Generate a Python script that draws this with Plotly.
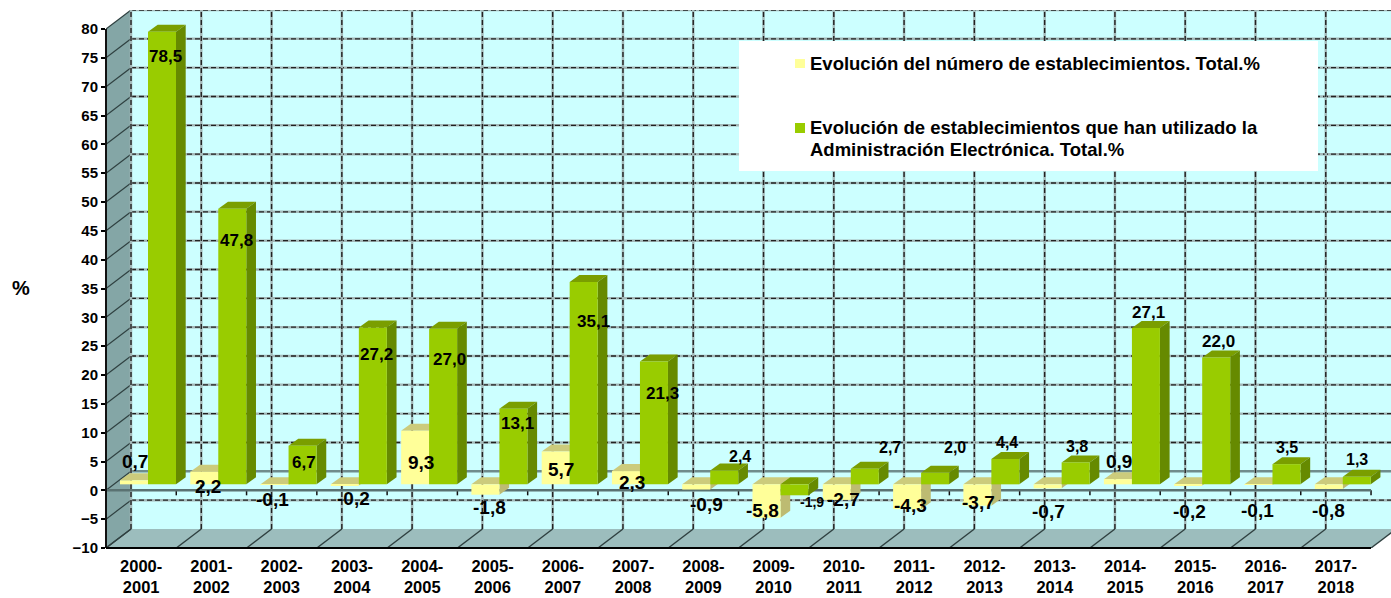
import plotly.graph_objects as go

periods = ["2000-2001", "2001-2002", "2002-2003", "2003-2004", "2004-2005", "2005-2006",
           "2006-2007", "2007-2008", "2008-2009", "2009-2010", "2010-2011", "2011-2012",
           "2012-2013", "2013-2014", "2014-2015", "2015-2016", "2016-2017", "2017-2018"]
establecimientos = [0.7, 2.2, -0.1, -0.2, 9.3, -1.8, 5.7, 2.3, -0.9, -5.8, -2.7, -4.3, -3.7, -0.7, 0.9, -0.2, -0.1, -0.8]
admin_electronica = [78.5, 47.8, 6.7, 27.2, 27.0, 13.1, 35.1, 21.3, 2.4, -1.9, 2.7, 2.0, 4.4, 3.8, 27.1, 22.0, 3.5, 1.3]
y_ticks = list(range(-10, 85, 5))

# label shifts in pixels, the labels were placed by hand in the original
yellow_shift = [(-6, 25), (-3, -9), (-9, -9), (2, -7), (-1, -26), (-3, -7), (-2, -12), (-1, -5), (3, -9),
                (-11, 13), (0, 6), (-4, 10), (-6, 9), (-6, -17), (-6, 24), (-6, -20), (-8, -20), (-7, -16)]
green_shift = [(24, -19), (25, -26), (22, -11), (25, -21), (27, -25), (25, -9), (31, -34), (29, -26), (37, 20),
               (38, -1), (46, 27), (41, 31), (22, 22), (22, 22), (23, 22), (23, 22), (21, 23), (21, 23)]

W, H = 1391, 598
LEFT, TOP, BOTTOM = 106, 10, 50
CAT_PX = 70.28
UNIT_PX = 5.767

# depth of the fake 3D box and of the bars, in axis units
BACK_X, BACK_Y = 25 / CAT_PX, 19 / UNIT_PX
FRONT_X, FRONT_Y = 7.5 / CAT_PX, 6 / UNIT_PX
BAR_X, BAR_Y = 9.7 / CAT_PX, 7 / UNIT_PX
BAR_W = 28 / CAT_PX
X0, X1 = -0.5, 17.5
Y0, Y1 = -10, 80

WALL = "#CCFFFF"
SIDE_WALL = "#84A6A6"
FLOOR = "#9CBDBD"
FONT = "Liberation Sans"


def poly(points, color):
    path = "M " + " L ".join(f"{x},{y}" for x, y in points) + " Z"
    return dict(type="path", path=path, xref="x", yref="y", fillcolor=color, line=dict(width=0), layer="between")


def seg(x0, y0, x1, y1, color, width, dash="solid"):
    return dict(type="line", x0=x0, y0=y0, x1=x1, y1=y1, xref="x", yref="y", layer="between",
                line=dict(color=color, width=width, dash=dash))


def dashed(x0, y0, x1, y1):
    return [seg(x0, y0, x1, y1, "#A3B8B8", 2.5), seg(x0, y0, x1, y1, "#222222", 1.4, "5px,3px")]


def box_faces(values, left, top_color, side_color):
    faces = []
    for i, v in enumerate(values):
        xl = i - 0.5 + left
        xr = xl + BAR_W
        hi = max(v, 0) + FRONT_Y
        lo = min(v, 0) + FRONT_Y
        faces.append(poly([(xl, hi), (xr, hi), (xr + BAR_X, hi + BAR_Y), (xl + BAR_X, hi + BAR_Y)], top_color))
        faces.append(poly([(xr, lo), (xr, hi), (xr + BAR_X, hi + BAR_Y), (xr + BAR_X, lo + BAR_Y)], side_color))
    return faces


yellow_left = 14 / CAT_PX
green_left = 42 / CAT_PX

shapes = [
    poly([(X0 + BACK_X, Y0 + BACK_Y), (X0 + BACK_X, Y1 + BACK_Y), (X1 + BACK_X, Y1 + BACK_Y), (X1 + BACK_X, Y0 + BACK_Y)], WALL),
    poly([(X0, Y0), (X0, Y1), (X0 + BACK_X, Y1 + BACK_Y), (X0 + BACK_X, Y0 + BACK_Y)], SIDE_WALL),
    poly([(X0, Y0), (X1, Y0), (X1 + BACK_X, Y0 + BACK_Y), (X0 + BACK_X, Y0 + BACK_Y)], FLOOR),
]

# back wall grid and the slanted lines on the side wall and floor
for t in y_ticks:
    if t == 0:
        shapes.append(seg(X0 + BACK_X, t + BACK_Y, X1 + BACK_X, t + BACK_Y, "#6F8C8C", 2.5))
    elif t > Y0:
        shapes += dashed(X0 + BACK_X, t + BACK_Y, X1 + BACK_X, t + BACK_Y)
    shapes.append(seg(X0, t, X0 + BACK_X, t + BACK_Y, "#2F4040", 1.2))
for k in range(19):
    x = X0 + k
    shapes += dashed(x + BACK_X, Y0 + BACK_Y, x + BACK_X, Y1 + BACK_Y)
    shapes.append(seg(x, Y0, x + BACK_X, Y0 + BACK_Y, "#2F4040", 1.4))
    # tick marks under the zero line
    shapes.append(seg(x, 0, x, -5 / UNIT_PX, "#111111", 1.5))

shapes.append(seg(X0, 0, X1, 0, "#5A7272", 2.5))

shapes += box_faces(establecimientos, yellow_left, "#CCCB7C", "#BDBB72")
shapes += box_faces(admin_electronica, green_left, "#7A9E00", "#668A00")

# axis lines that sit on the plot edge, above so they do not get cut in half
shapes.append(dict(type="line", xref="x domain", yref="y", x0=0, x1=0, y0=Y0, y1=Y1, layer="above",
                   line=dict(color="#111111", width=2)))
shapes.append(dict(type="line", xref="x", yref="y domain", x0=X0, x1=X1, y0=0, y1=0, layer="above",
                   line=dict(color="#000000", width=2)))


# legend box, drawn by hand since the original has small squares and a wide empty box
def px_x(p):
    return X0 + (p - LEFT) / CAT_PX


def px_y(p):
    return Y0 + (H - BOTTOM - p) / UNIT_PX


def legend_rect(x0, y0, x1, y1, color):
    return dict(type="rect", xref="x", yref="y", x0=px_x(x0), x1=px_x(x1), y0=px_y(y0), y1=px_y(y1),
                fillcolor=color, line=dict(width=0), layer="between")


shapes.append(legend_rect(739, 41, 1318, 171, "#FFFFFF"))
shapes.append(legend_rect(795, 59, 805, 68, "#FFFF99"))
shapes.append(legend_rect(795, 123, 805, 133, "#99CC00"))


def comma(v):
    return f"{v:.1f}".replace(".", ",")


annotations = []
for i, (v, s) in enumerate(zip(establecimientos, yellow_shift)):
    annotations.append(dict(x=i, y=v, text=f"<b>{comma(v)}</b>", showarrow=False, xshift=s[0], yshift=s[1],
                            font=dict(family=FONT, size=19, color="#000000")))
for i, (v, s) in enumerate(zip(admin_electronica, green_shift)):
    size = 17 if abs(v) > 5 else (16 if v > 0 else 14)
    annotations.append(dict(x=i, y=v, text=f"<b>{comma(v)}</b>", showarrow=False, xshift=s[0], yshift=s[1],
                            font=dict(family=FONT, size=size, color="#000000")))

annotations.append(dict(x=(21 - LEFT) / (W - LEFT), y=1 - (288 - TOP) / (H - TOP - BOTTOM), xref="paper", yref="paper",
                        xanchor="center", text="<b>%</b>", showarrow=False,
                        font=dict(family=FONT, size=20, color="#000000")))
legend_lines = [(63, "Evolución del número de establecimientos. Total.%"),
                (127, "Evolución de establecimientos que han utilizado la"),
                (149, "Administración Electrónica. Total.%")]
for y, txt in legend_lines:
    annotations.append(dict(x=px_x(808), y=px_y(y), xanchor="left", text=f"<b>{txt}</b>",
                            showarrow=False, font=dict(family=FONT, size=18.5, color="#000000")))

xs = list(range(len(periods)))
fig = go.Figure()
fig.add_trace(go.Bar(x=xs, y=establecimientos, base=FRONT_Y, width=BAR_W, offset=yellow_left - 0.5,
                     marker=dict(color="#FFFF99", line=dict(width=0)),
                     name="Evolución del número de establecimientos. Total.%"))
fig.add_trace(go.Bar(x=xs, y=admin_electronica, base=FRONT_Y, width=BAR_W, offset=green_left - 0.5,
                     marker=dict(color="#99CC00", line=dict(width=0)),
                     name="Evolución de establecimientos que han utilizado la Administración Electrónica. Total.%"))

fig.update_layout(
    width=W, height=H,
    margin=dict(l=LEFT, r=0, t=TOP, b=BOTTOM, pad=0, autoexpand=False),
    paper_bgcolor="#FFFFFF", plot_bgcolor="rgba(0,0,0,0)",
    showlegend=False, barmode="overlay",
    shapes=shapes, annotations=annotations,
    xaxis=dict(range=[X0, X0 + (W - LEFT) / CAT_PX], tickmode="array", tickvals=xs, automargin=False,
               ticktext=[p.replace("-", "-<br>") for p in periods], showgrid=False, zeroline=False,
               ticks="", showline=False, ticklabelstandoff=6,
               tickfont=dict(family=FONT, size=16.5, color="#000000", weight="bold")),
    yaxis=dict(range=[Y0, Y1 + BACK_Y], tickmode="array", tickvals=y_ticks, showgrid=False, zeroline=False,
               ticks="outside", ticklen=4, tickcolor="#000000", tickwidth=1.5, showline=False, automargin=False,
               tickfont=dict(family=FONT, size=15, color="#000000", weight="bold")),
)

fig.write_html("out.html", config=dict(displayModeBar=False), post_script="document.body.style.margin='0';")
